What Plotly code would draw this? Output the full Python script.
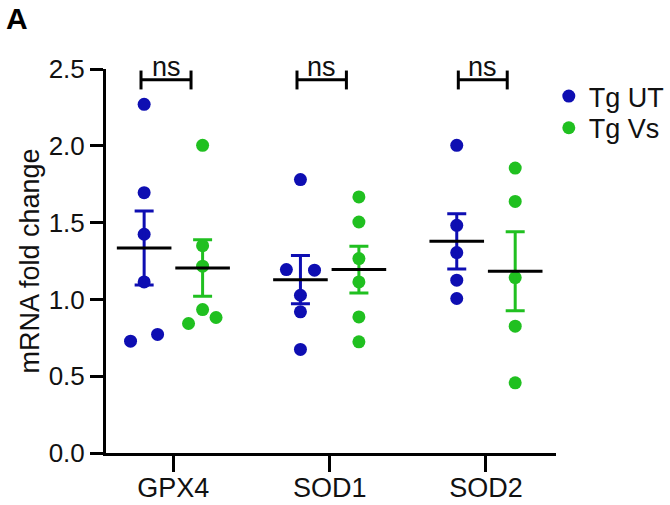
import plotly.graph_objects as go

# ---- data ----
categories = ["GPX4", "SOD1", "SOD2"]
groups = ["Tg UT", "Tg Vs"]

gpx4_ut = [2.27, 1.695, 1.424, 1.114, 0.728, 0.772]
gpx4_vs = [2.003, 1.35, 1.216, 0.934, 0.843, 0.882]
sod1_ut = [1.78, 1.194, 1.19, 1.027, 0.919, 0.674]
sod1_vs = [1.667, 1.504, 1.266, 1.114, 0.886, 0.724]
sod2_ut = [2.003, 1.482, 1.305, 1.125, 1.006]
sod2_vs = [1.855, 1.638, 1.142, 0.826, 0.457]

mean_ut = [1.335, 1.128, 1.378]
sem_ut = [0.241, 0.157, 0.180]
mean_vs = [1.205, 1.194, 1.183]
sem_vs = [0.184, 0.152, 0.257]

significance = ["ns", "ns", "ns"]

# ---- layout / styling (not data) ----
group_offset = 0.187
jitter_ut = [[0, 0, 0, 0, -0.087, 0.086], [0, -0.09, 0.09, 0, 0, 0], [0, 0, 0, 0, 0]]
jitter_vs = [[0, 0, 0, 0, -0.09, 0.086], [0, 0, 0, 0, 0, 0], [0, 0, 0, 0, 0]]
bracket_spans = [(-0.207, 0.113), (0.791, 1.107), (1.823, 2.136)]
bracket_y, bracket_lo, bracket_hi = 2.43, 2.367, 2.49

BLUE = "#0e0eb2"
GREEN = "#20c020"
FONT = "Liberation Sans, Arial, sans-serif"

ut_sets = [gpx4_ut, sod1_ut, sod2_ut]
vs_sets = [gpx4_vs, sod1_vs, sod2_vs]

def build_xy(sets, jit, sign):
    xs, ys = [], []
    for i, (vals, jj) in enumerate(zip(sets, jit)):
        for v, j in zip(vals, jj):
            xs.append(i + sign * group_offset + j)
            ys.append(v)
    return xs, ys

fig = go.Figure()

for name, sets, jit, sign, col, lg in [(groups[0], ut_sets, jitter_ut, -1, BLUE, "legend"),
                                        (groups[1], vs_sets, jitter_vs, 1, GREEN, "legend2")]:
    xs, ys = build_xy(sets, jit, sign)
    fig.add_trace(go.Scatter(x=xs, y=ys, mode="markers", name=name, legend=lg,
                             marker=dict(color=col, size=13, line=dict(width=0))))

for means, sems, sign, col in [(mean_ut, sem_ut, -1, BLUE), (mean_vs, sem_vs, 1, GREEN)]:
    fig.add_trace(go.Scatter(
        x=[i + sign * group_offset for i in range(len(categories))], y=means,
        mode="markers", showlegend=False,
        marker=dict(symbol="line-ew", size=39, color="black", line=dict(width=3, color="black")),
        error_y=dict(type="data", array=sems, visible=True, color=col, thickness=3, width=9.5)))

for (x0, x1), txt in zip(bracket_spans, significance):
    for seg in [(x0, bracket_y, x1, bracket_y), (x0, bracket_lo, x0, bracket_hi), (x1, bracket_lo, x1, bracket_hi)]:
        fig.add_shape(type="line", xref="x", yref="y", x0=seg[0], y0=seg[1], x1=seg[2], y1=seg[3],
                      line=dict(color="black", width=3))
    fig.add_annotation(x=(x0 + x1) / 2, y=bracket_y, xref="x", yref="y", text=txt,
                       showarrow=False, yanchor="bottom", yshift=-4,
                       font=dict(family=FONT, size=27, color="#111"))

fig.add_annotation(x=-0.224, y=1.176, xref="paper", yref="paper", text="<b>A</b>",
                   showarrow=False, xanchor="left", yanchor="top", borderpad=0,
                   font=dict(family=FONT, size=30, color="black"))

legend_style = dict(xanchor="left", yanchor="top",
                    font=dict(family=FONT, size=27, color="#111"),
                    bgcolor="rgba(0,0,0,0)", borderwidth=0)

fig.update_layout(
    width=670, height=505,
    margin=dict(l=106, r=114, t=68.5, b=51.7, autoexpand=False),
    paper_bgcolor="white", plot_bgcolor="white",
    font=dict(family=FONT, color="#111"),
    showlegend=True,
    legend=dict(x=0.984, y=0.992, **legend_style),
    legend2=dict(x=0.984, y=0.9096, **legend_style),
    xaxis=dict(range=[-0.431, 2.448], tickvals=list(range(len(categories))), ticktext=categories,
               showline=True, linewidth=3, linecolor="black", ticks="outside", ticklen=16,
               tickwidth=3, tickcolor="black", showgrid=False, zeroline=False, automargin=False,
               ticklabelstandoff=-7,
               tickfont=dict(family=FONT, size=27, color="#111")),
    yaxis=dict(range=[0, 2.5], tickvals=[0, 0.5, 1.0, 1.5, 2.0, 2.5], tickformat=".1f",
               showline=True, linewidth=3, linecolor="black", ticks="outside", ticklen=13,
               tickwidth=3, tickcolor="black", showgrid=False, zeroline=False, automargin=False,
               tickfont=dict(family=FONT, size=26, color="#111"),
               title=dict(text="mRNA fold change", standoff=2,
                          font=dict(family=FONT, size=27, color="#111"))),
)

fig.write_html("out.html")
